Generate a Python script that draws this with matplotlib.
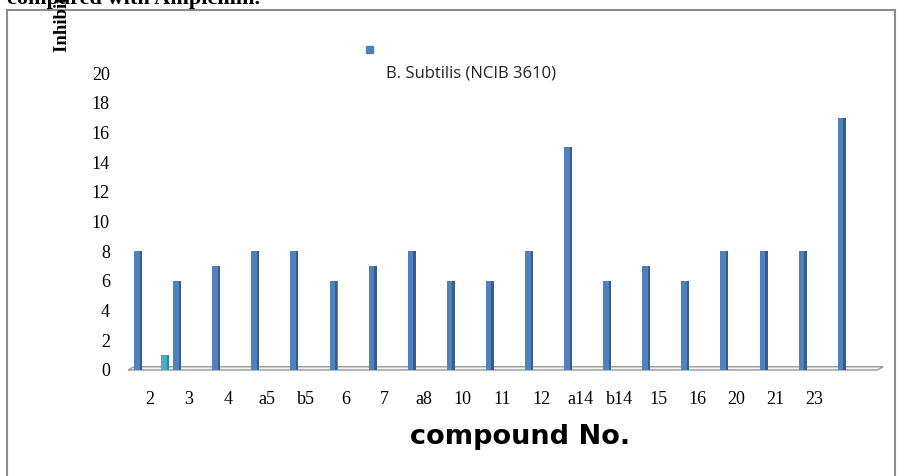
import matplotlib.pyplot as plt
from matplotlib.patches import Rectangle, Polygon
import numpy as np

# ── data ──────────────────────────────────────────────────────────────────────
compounds = ["2", "3", "4", "a5", "b5", "6", "7", "a8", "10", "11", "12",
             "a14", "b14", "15", "16", "20", "21", "23", ""]
bsubtilis = [8, 6, 7, 8, 8, 6, 7, 8, 6, 6, 8, 15, 6, 7, 6, 8, 8, 8, 17]
ampicillin = [1, 0, 0, 0, 0, 0, 0, 0, 0, 0, 0, 0, 0, 0, 0, 0, 0, 0, 0]
yticks = list(range(0, 21, 2))

W, H = 899, 476
BLUE, BLUE_DK = "#4F81BD", "#385D8A"
CYAN, CYAN_DK = "#4BACC6", "#31859C"

fig = plt.figure(figsize=(W / 100, H / 100), dpi=100)

def px(x, y):
    """pixel (from top-left) -> figure fraction"""
    return x / W, 1 - y / H

# axes: x pixels 130..880, value 0 at y=370, value 20 at y=73
ax = fig.add_axes([130 / W, (H - 370) / H, 750 / W, 297 / H])
step = 39.1
ax.set_xlim((130 - 150) / step, (880 - 150) / step)
ax.set_ylim(0, 20)

x = np.arange(len(compounds))
bw = 8 / step
side = 2.5 / step
xb = x - 12 / step
xc = x + 15 / step

ax.bar(xb, bsubtilis, width=bw, color=BLUE, align="center", zorder=3)
ax.bar(xb + bw / 2 - side / 2, bsubtilis, width=side, color=BLUE_DK,
       align="center", zorder=4)
amp = np.array(ampicillin, dtype=float)
mask = amp > 0
ax.bar(xc[mask], amp[mask], width=bw, color=CYAN, zorder=3)
ax.bar(xc[mask] + bw / 2 - side / 2, amp[mask], width=side, color=CYAN_DK,
       zorder=4)

# thin floor of the pseudo-3D plot
floor = Polygon([(-0.56, 0), (18.6, 0), (18.75, 0.22), (-0.41, 0.22)],
                closed=True, facecolor="#F2F2F2", edgecolor="#9A9A9A",
                lw=1.0, zorder=2, clip_on=False)
ax.add_patch(floor)

for s in ax.spines.values():
    s.set_visible(False)
ax.tick_params(length=0)
ax.set_yticks(yticks)
ax.set_yticklabels([str(v) for v in yticks], family="Liberation Serif",
                   fontsize=13)
ax.tick_params(axis="y", pad=14.5)
ax.set_xticks(x)
ax.set_xticklabels(compounds, family="Liberation Serif", fontsize=13)
ax.tick_params(axis="x", pad=15)

# outer chart border
border = Rectangle((7 / W, -0.01), (895 - 7) / W, 1 - 10 / H + 0.01,
                   transform=fig.transFigure, fill=False, edgecolor="#8C8C8C",
                   lw=1.5)
fig.patches.append(border)

# legend (drawn by hand, as in the source)
fig.patches.append(Rectangle(px(366, 53), 7 / W, 7 / H,
                             transform=fig.transFigure, color=BLUE))
fig.text(*px(386, 73), "B. Subtilis (NCIB 3610)", family="Open Sans",
         fontsize=12, va="center", ha="left", color="#222222")

# axis titles (the source figure is cropped at the top, cutting these two)
fig.text(*px(520, 437), "compound No.", family="DejaVu Sans",
         fontweight="bold", fontsize=19.5, ha="center", va="center")
fig.text(*px(62, 52), "Inhibition zone (mm)", family="Liberation Serif",
         fontweight="bold", fontsize=13.5, rotation=90, ha="center",
         va="bottom")
fig.text(*px(7, 4), "compared with Ampicillin.", family="Liberation Serif",
         fontweight="bold", fontsize=16, ha="left", va="baseline")

fig.savefig("out.png", dpi=100)
